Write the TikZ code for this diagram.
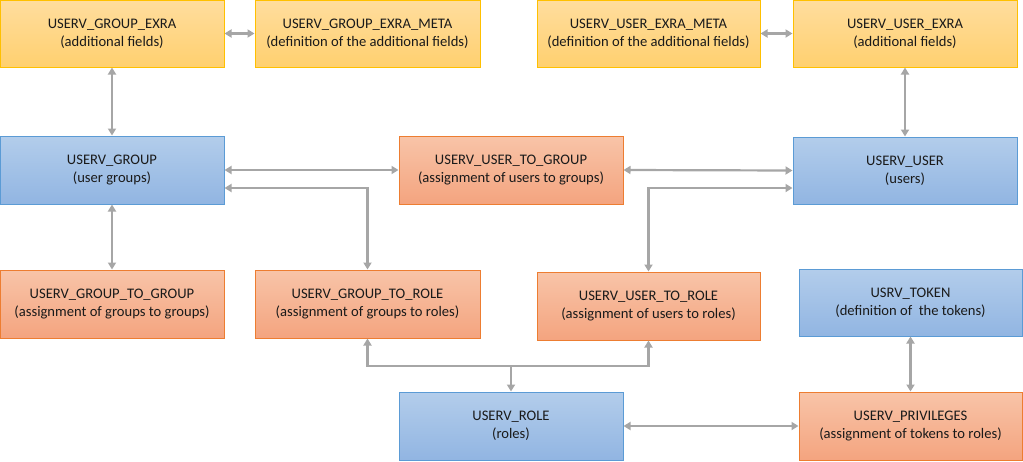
\documentclass[tikz,border=0pt]{standalone}
\usepackage{fontspec}
\setmainfont{Carlito}
\usetikzlibrary{arrows.meta}
\definecolor{ylT}{HTML}{FFDD9E}
\definecolor{ylB}{HTML}{FFD06F}
\definecolor{ylD}{HTML}{FFC000}
\definecolor{blT}{HTML}{B3CDEB}
\definecolor{blB}{HTML}{91B5E2}
\definecolor{blD}{HTML}{5B9BD5}
\definecolor{orT}{HTML}{F8C4A8}
\definecolor{orB}{HTML}{F4A47F}
\definecolor{orD}{HTML}{ED7D31}
\definecolor{conn}{HTML}{A6A6A6}
\definecolor{txt}{HTML}{1A1A1A}
\tikzset{
  box/.style={rectangle, line width=1pt, minimum width=224pt, minimum height=68pt,
    align=center, text=txt, font=\fontsize{14.6}{17.6}\selectfont, inner sep=0pt},
  ybox/.style={box, draw=ylD, top color=ylT, bottom color=ylB},
  bbox/.style={box, draw=blD, top color=blT, bottom color=blB},
  obox/.style={box, draw=orD, top color=orT, bottom color=orB},
  link/.style={draw=conn, line width=2.2pt,
    arrows={Triangle[length=7pt,width=8pt,fill=conn]-Triangle[length=7pt,width=8pt,fill=conn]}},
  onelink/.style={draw=conn, line width=2.2pt, arrows={-Triangle[length=7pt,width=8pt,fill=conn]}},
}
\begin{document}
\begin{tikzpicture}[x=1pt,y=-1pt]
\useasboundingbox (0,0) rectangle (1023,461);
% row 1
\node[ybox, minimum height=67pt] (ge) at (112,33.5) {USERV\_GROUP\_EXRA\\(additional fields)};
\node[ybox, minimum height=67pt, minimum width=225pt] (gem) at (367.5,33.5) {USERV\_GROUP\_EXRA\_META\\(definition of the additional fields)};
\node[ybox, minimum height=67pt, minimum width=223pt] (uem) at (648.5,33.5) {USERV\_USER\_EXRA\_META\\(definition of the additional fields)};
\node[ybox, minimum height=67pt] (ue) at (905,33.5) {USERV\_USER\_EXRA\\(additional fields)};
% row 2
\node[bbox] (g) at (112,170) {USERV\_GROUP\\(user groups)};
\node[obox] (utg) at (511,170) {USERV\_USER\_TO\_GROUP\\(assignment of users to groups)};
\node[bbox, minimum height=67pt] (u) at (905,170.5) {USERV\_USER\\(users)};
% row 3
\node[obox] (gtg) at (112,304) {USERV\_GROUP\_TO\_GROUP\\(assignment of groups to groups)};
\node[obox, minimum width=225pt] (gtr) at (367.5,304) {USERV\_GROUP\_TO\_ROLE\\(assignment of groups to roles)};
\node[obox, minimum width=223pt] (utr) at (648.5,306) {USERV\_USER\_TO\_ROLE\\(assignment of users to roles)};
\node[bbox, minimum width=223pt, minimum height=67pt] (tok) at (910.5,302.5) {USRV\_TOKEN\\(definition of\ \ the tokens)};
% row 4
\node[bbox] (role) at (511,426) {USERV\_ROLE\\(roles)};
\node[obox, minimum width=223pt] (priv) at (910.5,426) {USERV\_PRIVILEGES\\(assignment of tokens to roles)};
% connectors
\draw[link] (ge.east) -- (gem.west);
\draw[link] (uem.east) -- (ue.west);
\draw[link] (ge.south) -- (g.north);
\draw[link] (ue.south) -- (u.north);
\draw[link] (g.east) -- (utg.west);
\draw[link] (utg.east) -- (u.west);
\draw[link] (gtr.north) |- ([yshift=-18pt]g.east);
\draw[link] (utr.north) |- ([yshift=-17.5pt]u.west);
\draw[link] (g.south) -- (gtg.north);
\coordinate (j) at (511,366);
\draw[onelink] (j) -- (role.north);
\draw[onelink] (j) -| (gtr.south);
\draw[onelink] (j) -| (utr.south);
\draw[link] (role.east) -- (priv.west);
\draw[link] (tok.south) -- (priv.north);
\end{tikzpicture}
\end{document}
